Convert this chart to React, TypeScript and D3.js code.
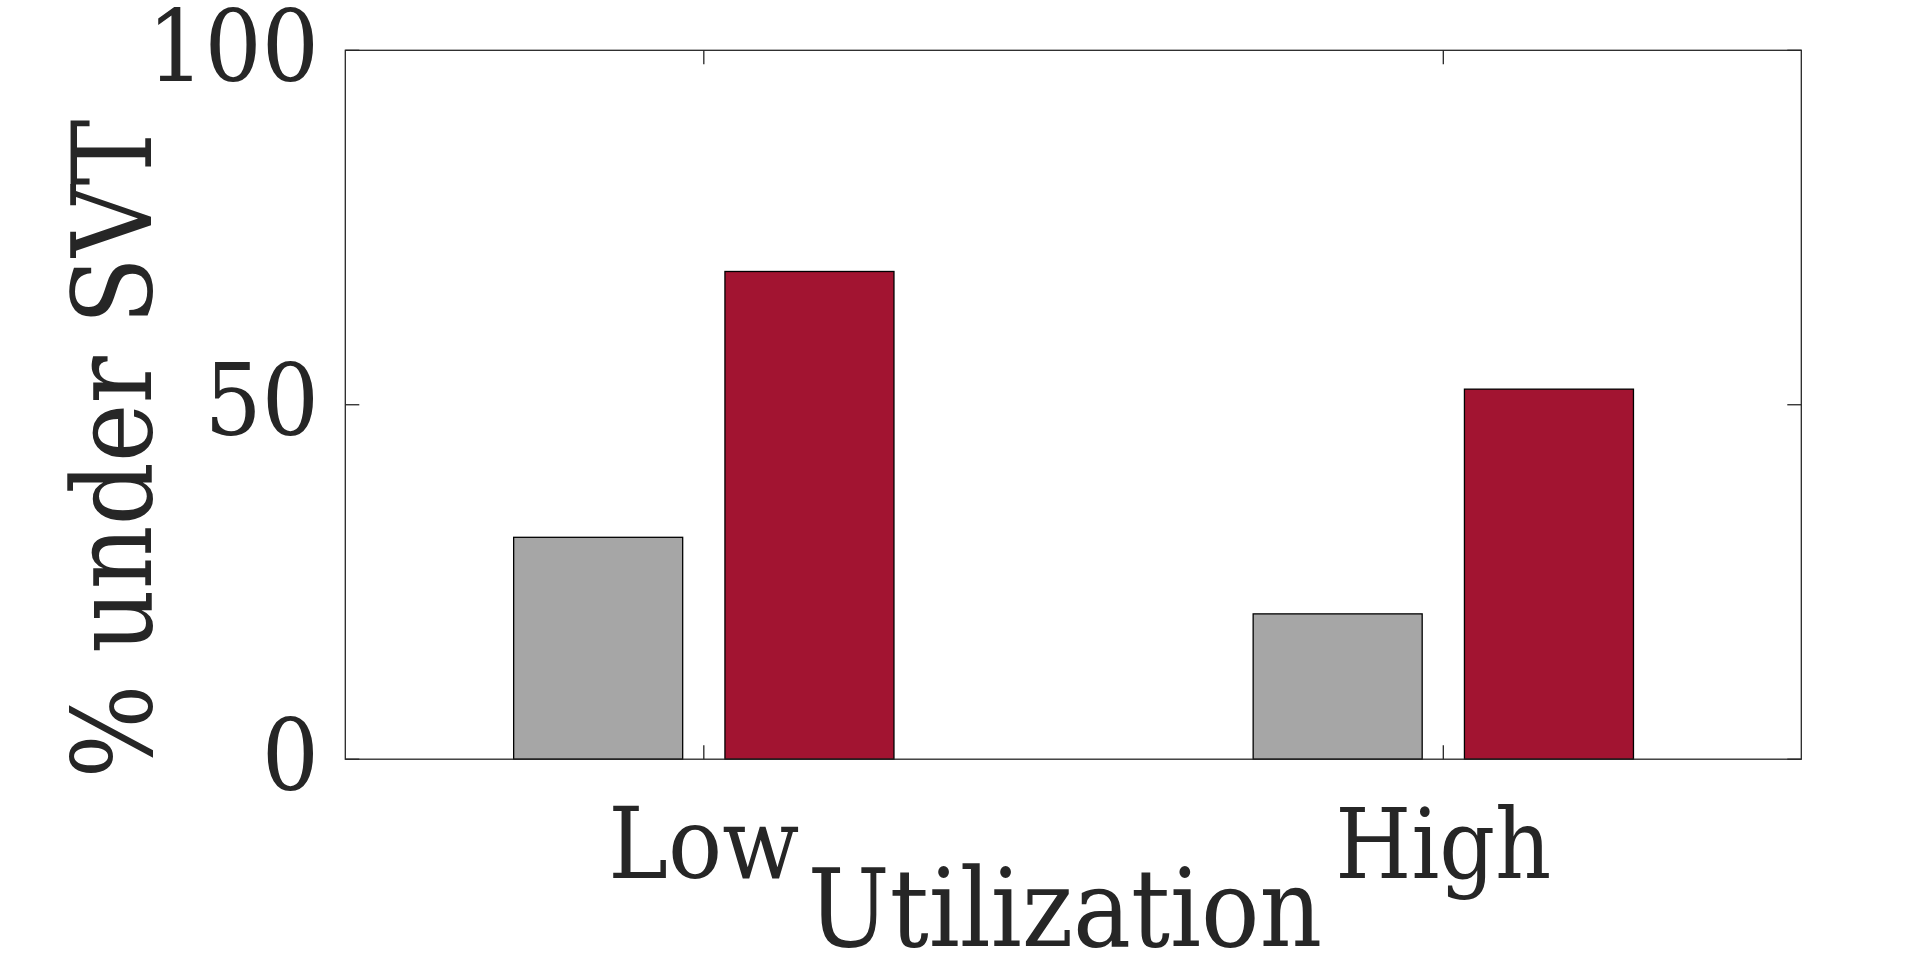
import React from "react";
import * as d3 from "d3";

const categories = ["Low", "High"];
const seriesNames = ["Baseline", "Proposed"];
const baselineValues = [31.3, 20.5];
const proposedValues = [68.8, 52.2];
const yTicks = [0, 50, 100];
const xLabel = "Utilization";
const yLabel = "% under SVT";
const colors = ["#a6a6a6", "#a21431"];

const W = 1920;
const H = 955;
const left = 345.3;
const right = 1801.3;
const top = 50.3;
const bottom = 759.2;
const FONT = "'DejaVu Serif', serif";
const TXT = "#262626";

export default function App() {
  const x = d3.scaleLinear().domain([0.5152, 2.4841]).range([left, right]);
  const y = d3.scaleLinear().domain([0, 100]).range([bottom, top]);
  const nSeries = 2;
  const groupWidth = Math.min(0.8, nSeries / (nSeries + 1.5));
  const slot = groupWidth / nSeries;
  const barW = slot * 0.8;
  const series = [baselineValues, proposedValues];
  const tickLen = 14;

  return (
    <svg
      width={W}
      height={H}
      style={{ position: "absolute", left: 0, top: 0, background: "#fff" }}
    >
      <rect x={0} y={0} width={W} height={H} fill="#fff" />
      {series.map((vals, si) =>
        vals.map((v, ci) => {
          const cx = ci + 1 - groupWidth / 2 + slot * (si + 0.5);
          const x0 = x(cx - barW / 2);
          const x1 = x(cx + barW / 2);
          return (
            <rect
              key={`${si}-${ci}`}
              x={x0}
              y={y(v)}
              width={x1 - x0}
              height={y(0) - y(v)}
              fill={colors[si]}
              stroke="#000"
              strokeWidth={1.3}
            >
              <title>{`${seriesNames[si]} ${categories[ci]}: ${v}`}</title>
            </rect>
          );
        })
      )}
      <rect
        x={left}
        y={top}
        width={right - left}
        height={bottom - top}
        fill="none"
        stroke={TXT}
        strokeWidth={1.3}
      />
      {yTicks.map((t) => (
        <g key={`yt${t}`}>
          <line x1={left} x2={left + tickLen} y1={y(t)} y2={y(t)} stroke={TXT} strokeWidth={1.3} />
          <line x1={right} x2={right - tickLen} y1={y(t)} y2={y(t)} stroke={TXT} strokeWidth={1.3} />
          <text
            x={319}
            y={y(t)}
            dy="0.305em"
            textAnchor="end"
            fontFamily={FONT}
            fontStretch="condensed"
            fontSize={100}
            fill={TXT}
          >
            {t}
          </text>
        </g>
      ))}
      {categories.map((c, i) => (
        <g key={`xt${c}`}>
          <line x1={x(i + 1)} x2={x(i + 1)} y1={bottom} y2={bottom - tickLen} stroke={TXT} strokeWidth={1.3} />
          <line x1={x(i + 1)} x2={x(i + 1)} y1={top} y2={top + tickLen} stroke={TXT} strokeWidth={1.3} />
          <text
            x={x(i + 1)}
            y={878.3}
            textAnchor="middle"
            fontFamily={FONT}
            fontStretch="condensed"
            fontSize={i === 1 ? 97 : 100}
            fill={TXT}
          >
            {c}
          </text>
        </g>
      ))}
      <text
        x={1065}
        y={946}
        textAnchor="middle"
        fontFamily={FONT}
        fontStretch="condensed"
        fontSize={108}
        fill={TXT}
      >
        {xLabel}
      </text>
      <text
        transform={`translate(151, 449) rotate(-90)`}
        textAnchor="middle"
        fontFamily={FONT}
        fontStretch="condensed"
        fontSize={110}
        fill={TXT}
      >
        {yLabel}
      </text>
    </svg>
  );
}
